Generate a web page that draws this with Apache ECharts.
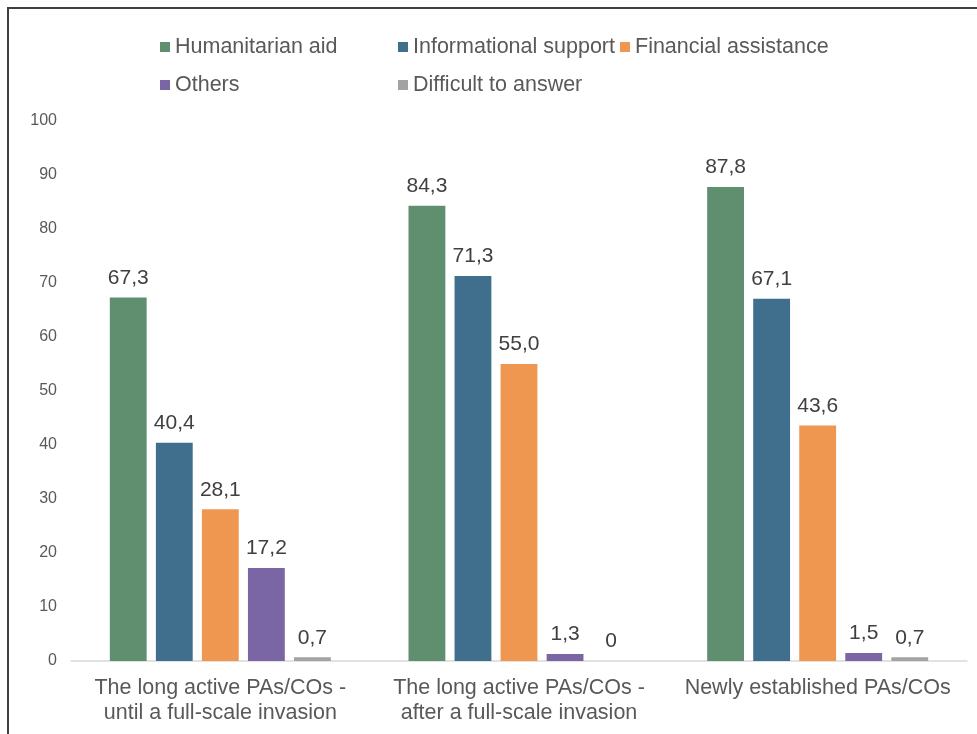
<!DOCTYPE html>
<html><head><meta charset="utf-8">
<script src="https://cdn.jsdelivr.net/npm/echarts@6/dist/echarts.min.js"></script>
<style>html,body{margin:0;padding:0;background:#fff}#c{width:977px;height:734px}</style>
</head><body><div id="c"></div>
<script>
const categories = ["The long active PAs/COs -\nuntil a full-scale invasion", "The long active PAs/COs -\nafter a full-scale invasion", "Newly established PAs/COs"];
const seriesNames = ["Humanitarian aid", "Informational support", "Financial assistance", "Others", "Difficult to answer"];
const humanitarian = [67.3, 84.3, 87.8];
const informational = [40.4, 71.3, 67.1];
const financial = [28.1, 55.0, 43.6];
const others = [17.2, 1.3, 1.5];
const difficult = [0.7, 0, 0.7];
const colors = ["#5f8f6f", "#3f6f8c", "#ef9751", "#7a65a5", "#a3a3a3"];
const values = [humanitarian, informational, financial, others, difficult];
const font = "Liberation Sans, Arial, sans-serif";

const chart = echarts.init(document.getElementById('c'));
const legendCommon = {
  orient: 'vertical', icon: 'rect', itemWidth: 10, itemHeight: 10, itemGap: 16,
  textStyle: {fontFamily: font, fontSize: 21.5, color: '#595959', padding: [0,0,0,0]}
};
chart.setOption({
  animation: false,
  color: colors,
  graphic: [{type: 'rect', shape: {x: 8, y: 8, width: 1100, height: 1100}, style: {fill: 'none', stroke: '#404040', lineWidth: 2}}],
  legend: [
    Object.assign({left: 155, top: 31, data: [seriesNames[0], seriesNames[3]]}, legendCommon),
    Object.assign({left: 393, top: 31, data: [seriesNames[1], seriesNames[4]]}, legendCommon),
    Object.assign({left: 615, top: 31, data: [seriesNames[2]]}, legendCommon)
  ],
  grid: {left: 71, right: 10, top: 121, bottom: 73},
  xAxis: {
    type: 'category', data: categories,
    axisLine: {lineStyle: {color: '#d9d9d9', width: 1.5}},
    axisTick: {show: false},
    axisLabel: {fontFamily: font, fontSize: 21.5, color: '#595959', lineHeight: 25, margin: 15, interval: 0}
  },
  yAxis: {
    type: 'value', min: 0, max: 100, interval: 10,
    splitLine: {show: false}, axisLine: {show: false}, axisTick: {show: false},
    axisLabel: {fontFamily: font, fontSize: 16, color: '#595959', margin: 14}
  },
  series: seriesNames.map((n, i) => ({
    name: n, type: 'bar', data: values[i],
    barGap: '25%', barCategoryGap: '26%',
    itemStyle: {color: colors[i]},
    label: {
      show: true, position: 'top', distance: 9,
      fontFamily: font, fontSize: 21, color: '#404040',
      formatter: p => p.value === 0 ? '0' : p.value.toFixed(1).replace('.', ',')
    }
  }))
});
</script></body></html>
